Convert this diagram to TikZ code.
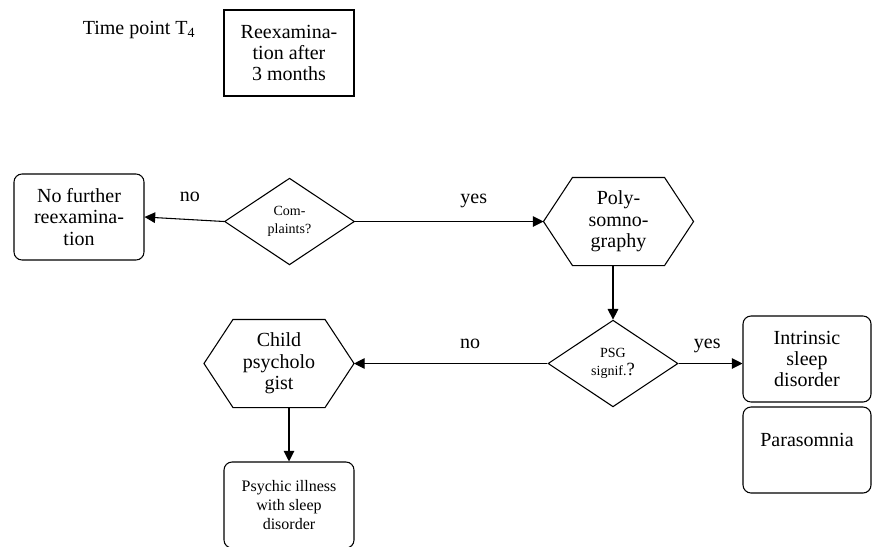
\documentclass[tikz,border=0pt]{standalone}
\usepackage{fontspec}
\setmainfont{Liberation Serif}
\usetikzlibrary{arrows.meta,shapes.geometric}

\begin{document}
\begin{tikzpicture}
  [x=0.75pt,y=-0.75pt,line width=0.8pt,>={Triangle[length=8pt,width=8pt]},
   every node/.style={align=center,inner sep=0pt,font=\fontsize{15}{16}\selectfont},
   plainbox/.style={rectangle,draw,minimum width=97.5pt,minimum height=64.5pt},
   roundbox/.style={plainbox,rounded corners=6pt},
   decision/.style={diamond,draw,minimum width=97.5pt,minimum height=65pt,font=\fontsize{10.5}{14}\selectfont},
   hexa/.style={rectangle,draw=none,minimum width=111.75pt,minimum height=65.25pt},
   answer/.style={text depth=0pt}]
  \useasboundingbox (0,0) rectangle (873,546);
  \node (t4) at (139,30) {Time point T\textsubscript{4}};
  \node[plainbox] (reex) at (289,53) {Reexamina-\\tion after\\3 months};
  \node[roundbox] (nofur) at (79,217) {No further\\reexamina-\\tion};
  \node[decision] (cmp) at (289.5,221.5) {Com-\\plaints?};
  \node[hexa] (poly) at (618.5,221.5) {Poly-\\somno-\\graphy};
  \node[decision] (psg) at (613,363.5) {PSG\\signif.{\fontsize{14}{14}\selectfont ?}};
  \node[roundbox,minimum width=96pt] (intr) at (807,359) {Intrinsic\\sleep\\disorder};
  \node[roundbox,minimum width=96pt,text depth=15pt] (para) at (807,450) {Parasomnia};
  \node[hexa] (child) at (279,363.5) {Child\\psycholo\\gist};
  \node[roundbox,font=\fontsize{12}{14}\selectfont] (psy) at (289,505) {Psychic illness\\with sleep\\disorder};
  % hexagon outlines
  \foreach \h in {poly,child}
    \draw (\h.west) -- ([xshift=21.75pt]\h.north west) -- ([xshift=-21.75pt]\h.north east)
      -- (\h.east) -- ([xshift=-21.75pt]\h.south east) -- ([xshift=21.75pt]\h.south west) -- cycle;
  \draw[->] (cmp.west) -- node[answer,pos=.43,above=13pt] {no} (nofur.east);
  \draw[->] (cmp.east) -- node[answer,pos=.63,above=13pt] {yes} (poly.west);
  \draw[->] (poly.south -| psg.north) -- (psg.north);
  \draw[->] (psg.west) -- node[answer,pos=.4,above=11pt] {no} (child.east);
  \draw[->] (psg.east) -- node[answer,pos=.45,above=10.5pt] {yes} (psg.east -| intr.west);
  \draw[->] (child.south -| psy.north) -- (psy.north);
\end{tikzpicture}
\end{document}
